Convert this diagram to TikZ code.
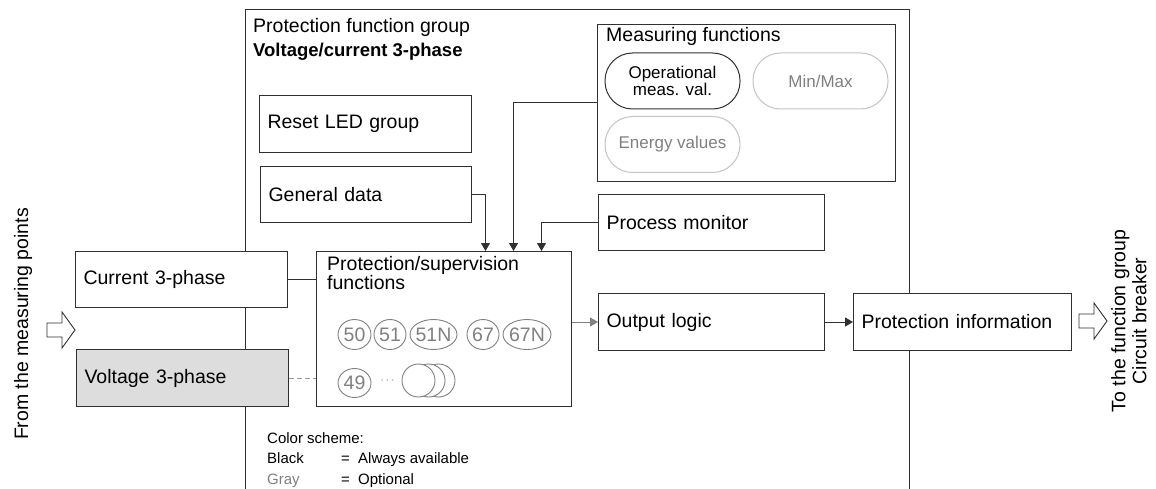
\documentclass[tikz,border=0pt]{standalone}
\usepackage{fontspec}
\setmainfont{Liberation Sans}
\usetikzlibrary{arrows.meta,shapes.geometric}
\definecolor{ln}{HTML}{303030}
\definecolor{gtext}{HTML}{808080}
\definecolor{gline}{HTML}{C4C4C4}
\definecolor{vfill}{HTML}{DDDDDD}
\tikzset{
  x=1pt,y=-1pt,
  bigfont/.style={font=\fontsize{19.5}{19}\selectfont},
  box/.style={draw=ln,line width=1pt,fill=white,anchor=north west,inner xsep=8pt,inner ysep=0pt,align=left,bigfont},
  pill/.style={draw=ln,line width=1pt,fill=white,rounded corners=27.5pt,minimum width=135pt,minimum height=56pt,inner sep=0pt,align=center,font=\fontsize{17}{17.5}\selectfont},
  optpill/.style={pill,draw=gline,text=gtext},
  fn/.style={ellipse,draw=gtext,line width=0.9pt,fill=white,inner sep=0pt,text=gtext,font=\fontsize{19.5}{20}\selectfont},
  arr/.style={draw=ln,line width=1pt,-{Triangle[width=9pt,length=8pt]}},
  conn/.style={draw=ln,line width=1pt},
  lbl/.style={inner sep=0pt,anchor=base west,bigfont},
  small/.style={inner sep=0pt,anchor=base west,font=\fontsize{15}{15}\selectfont},
}
\begin{document}
\begin{tikzpicture}
\useasboundingbox (0,0) rectangle (1156,489);
% outer group frame (open at the bottom)
\coordinate (fbl) at (245,489);
\coordinate (ftl) at (245,10);
\coordinate (ftr) at (909,10);
\coordinate (fbr) at (909,489);
\draw[conn] (fbl) -- (ftl) -- (ftr) -- (fbr);
\node[lbl] (gt1) at (253,33) {Protection function group};
\node[lbl,font=\bfseries\fontsize{18.5}{19}\selectfont] (gt2) at (253,57) {Voltage/current 3-phase};

% boxes
\node[box,minimum width=212pt,minimum height=57pt,text width=196pt] (rl) at (259,95) {Reset LED group};
\node[box,minimum width=211pt,minimum height=56pt,text width=195pt] (gd) at (260,166) {General data};
\node[box,minimum width=298pt,minimum height=157pt] (mf) at (597,24) {};
\node[lbl] (mft) at (606,42) {Measuring functions};
\node[pill] (op) at (672.5,81) {Operational\\meas. val.};
\node[optpill] (mm) at (820.5,81) {Min/Max};
\node[optpill] (ev) at (672.5,144.5) {Energy values};
\node[box,minimum width=226pt,minimum height=56pt,text width=210pt] (pm) at (598,194) {Process monitor};
\node[box,minimum width=212pt,minimum height=56pt,text width=196pt] (cur) at (75,251) {Current 3-phase};
\node[box,fill=vfill,minimum width=212pt,minimum height=57pt,text width=196pt] (volt) at (76,349) {Voltage 3-phase};
\node[box,minimum width=255pt,minimum height=155pt] (ps) at (316,251) {};
\node[lbl] (pst1) at (327,270) {Protection/supervision};
\node[lbl] (pst2) at (327,289) {functions};
\node[box,minimum width=226pt,minimum height=57pt,text width=210pt] (ol) at (598,293) {Output logic};
\node[box,minimum width=218pt,minimum height=57pt,text width=202pt] (pi) at (853,293) {Protection information};

% function circles
\node[fn,minimum width=33pt,minimum height=30pt] (f50) at (354.5,334.5) {\makebox[0pt]{50}};
\node[fn,minimum width=32pt,minimum height=30pt] (f51) at (390,334.5) {\makebox[0pt]{51}};
\node[fn,minimum width=47pt,minimum height=30pt] (f51n) at (433.5,334.5) {\makebox[0pt]{51N}};
\node[fn,minimum width=32pt,minimum height=30pt] (f67) at (483,334.5) {\makebox[0pt]{67}};
\node[fn,minimum width=48pt,minimum height=30pt] (f67n) at (527,334.5) {\makebox[0pt]{67N}};
\node[fn,minimum width=33pt,minimum height=29pt] (f49) at (354.5,383) {\makebox[0pt]{49}};
\node[inner sep=0pt,text=gtext,font=\fontsize{12}{12}\selectfont] (dots) at (387.5,381) {$\cdots$};
\node[fn,minimum width=33pt,minimum height=33pt] (fc3) at (438.5,380.5) {};
\node[fn,minimum width=33pt,minimum height=33pt] (fc2) at (428.5,380.5) {};
\node[fn,minimum width=33pt,minimum height=33pt] (fc1) at (418.5,380.5) {};

% connectors
\draw[arr] (gd.east) -| ([xshift=41.5pt]ps.north);
\draw[arr] (mf.west) -| ([xshift=69.5pt]ps.north);
\draw[arr] (pm.west) -| ([xshift=97.5pt]ps.north);
\draw[conn] (cur.east) -- (cur.east -| ps.west);
\draw[draw=gtext!80,line width=1pt,dash pattern=on 5pt off 3pt] (volt.east) -- (volt.east -| ps.west);
\draw[draw=gtext,line width=1pt,-{Triangle[width=9pt,length=8pt]}] (ps.east |- ol.west) -- (ol.west);
\draw[arr] (ol.east) -- (pi.west);

% hollow block arrows
\draw[ln,line width=0.9pt,fill=white] (47,323) -- (62,323) -- (62,312) -- (75,330) -- (62,348) -- (62,337) -- (47,337) -- cycle;
\draw[ln,line width=0.9pt,fill=white] (1079,314) -- (1094,314) -- (1094,303) -- (1107,321) -- (1094,339) -- (1094,328) -- (1079,328) -- cycle;

% side labels
\node[rotate=90,inner sep=0pt,bigfont] (from) at (23,324) {From the measuring points};
\node[rotate=90,inner sep=0pt,align=center,font=\fontsize{19.5}{21}\selectfont] (to) at (1129,321) {To the function group\\Circuit breaker};

% colour scheme legend
\node[small] (cs) at (267,443) {Color scheme:};
\node[small] (cb) at (267,463) {Black};
\node[small] (cbe) at (341,463) {=};
\node[small] (cbt) at (358,463) {Always available};
\node[small,text=gtext] (cg) at (267,484) {Gray};
\node[small] (cge) at (341,484) {=};
\node[small] (cgt) at (358,484) {Optional};
\end{tikzpicture}
\end{document}
